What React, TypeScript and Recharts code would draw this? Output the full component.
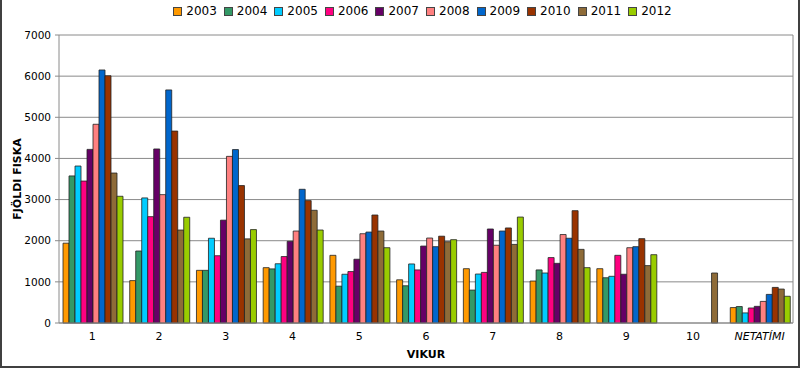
import React from "react";
import {
  Bar,
  BarChart,
  CartesianGrid,
  Legend,
  XAxis,
  YAxis,
} from "recharts";

const weeks = ["1", "2", "3", "4", "5", "6", "7", "8", "9", "10", "NETATÍMI"];
const years = ["2003", "2004", "2005", "2006", "2007", "2008", "2009", "2010", "2011", "2012"];
const colors = ["#ff9900", "#339966", "#00ccff", "#ff0080", "#660066", "#ff8080", "#0066cc", "#993300", "#8e6b38", "#99cc00"];

const y2003 = [1940, 1030, 1280, 1345, 1645, 1050, 1320, 1020, 1320, null, 375];
const y2004 = [3575, 1750, 1280, 1315, 895, 905, 800, 1290, 1100, null, 400];
const y2005 = [3815, 3040, 2060, 1440, 1185, 1435, 1190, 1215, 1135, null, 245];
const y2006 = [3450, 2585, 1635, 1615, 1250, 1290, 1230, 1590, 1645, null, 365];
const y2007 = [4220, 4230, 2500, 1985, 1550, 1870, 2285, 1450, 1185, null, 405];
const y2008 = [4830, 3120, 4050, 2235, 2170, 2065, 1890, 2150, 1830, null, 525];
const y2009 = [6150, 5665, 4215, 3250, 2210, 1855, 2235, 2060, 1855, null, 695];
const y2010 = [6010, 4665, 3340, 2975, 2625, 2110, 2310, 2730, 2050, null, 865];
const y2011 = [3645, 2260, 2045, 2740, 2235, 1975, 1910, 1790, 1395, 1215, 825];
const y2012 = [3080, 2570, 2270, 2260, 1830, 2025, 2575, 1345, 1660, null, 650];

const series = [y2003, y2004, y2005, y2006, y2007, y2008, y2009, y2010, y2011, y2012];
const yTicks = [0, 1000, 2000, 3000, 4000, 5000, 6000, 7000];
const weekEdges = [0, 1, 2, 3, 4, 5, 6, 7, 8, 9, 10, 11];

const data = weeks.map((w, i) => {
  const row: Record<string, string | number | null> = { week: w };
  years.forEach((yr, k) => {
    row[yr] = series[k][i];
  });
  return row;
});

const font = "'DejaVu Sans', Verdana, sans-serif";

const WeekTick = (props: any) => {
  const { x, y, payload } = props;
  const italic = payload.value === "NETATÍMI";
  return (
    <text
      x={x}
      y={y}
      dy={9}
      textAnchor="middle"
      fontSize={11}
      fontFamily={font}
      fontStyle={italic ? "italic" : "normal"}
      fill="#000"
    >
      {payload.value}
    </text>
  );
};

const YearLegend = () => (
  <div
    style={{
      display: "flex",
      justifyContent: "center",
      fontFamily: font,
      fontSize: 12,
      lineHeight: "14px",
      height: 14,
      color: "#000",
    }}
  >
    {years.map((yr, k) => (
      <div key={yr} style={{ display: "flex", alignItems: "center", marginRight: 7 }}>
        <span
          style={{
            width: 7,
            height: 7,
            background: colors[k],
            border: "1px solid #444",
            marginRight: 4,
            display: "inline-block",
          }}
        />
        <span>{yr}</span>
      </div>
    ))}
  </div>
);

const YLabel = (props: any) => {
  const { viewBox } = props;
  const cx = 17;
  const cy = viewBox.y + viewBox.height / 2;
  return (
    <text
      x={cx}
      y={cy}
      transform={`rotate(-90, ${cx}, ${cy})`}
      textAnchor="middle"
      dominantBaseline="central"
      fontSize={11}
      fontWeight="bold"
      fontFamily={font}
      fill="#000"
    >
      FJÖLDI FISKA
    </text>
  );
};

const App = () => {
  return (
    <div style={{ position: "absolute", left: 0, top: 0, width: 800, height: 368, background: "#fff" }}>
      <BarChart
        width={800}
        height={368}
        data={data}
        margin={{ top: 21, right: 6, bottom: 0, left: 0 }}
        barCategoryGap="6%"
        barGap={0}
      >
        <CartesianGrid vertical={false} stroke="#8a8a8a" />
        <XAxis
          xAxisId="edges"
          type="number"
          domain={[0, 11]}
          ticks={weekEdges}
          height={0}
          tick={false}
          tickSize={3}
          tickLine={{ stroke: "#999" }}
          axisLine={false}
          allowDataOverflow
        />
        <XAxis
          dataKey="week"
          height={45}
          tickLine={false}
          axisLine={{ stroke: "#8a8a8a" }}
          tick={<WeekTick />}
          interval={0}
          label={{
            value: "VIKUR",
            position: "insideBottom",
            offset: 10,
            fontSize: 11,
            fontWeight: "bold",
            fontFamily: font,
            fill: "#000",
          }}
        />
        <YAxis
          width={59}
          domain={[0, 7000]}
          ticks={yTicks}
          interval={0}
          tickSize={4}
          tickMargin={4}
          tickLine={{ stroke: "#8a8a8a" }}
          axisLine={{ stroke: "#8a8a8a" }}
          tick={{ fontSize: 10.5, fontFamily: font, fill: "#000" }}
          label={<YLabel />}
        />
        <YAxis
          yAxisId="right"
          orientation="right"
          width={1}
          domain={[0, 7000]}
          tick={false}
          tickLine={false}
          axisLine={{ stroke: "#8a8a8a" }}
        />
        <Legend
          verticalAlign="top"
          content={<YearLegend />}
          wrapperStyle={{ top: 4, left: 59, width: 734, height: 14 }}
        />
        {years.map((yr, k) => (
          <Bar
            key={yr}
            dataKey={yr}
            fill={colors[k]}
            stroke="#222"
            strokeWidth={0.8}
            isAnimationActive={false}
          />
        ))}
      </BarChart>
      <div
        style={{
          position: "absolute",
          left: 0,
          top: 0,
          width: 800,
          height: 368,
          boxSizing: "border-box",
          borderLeft: "2px solid #404040",
          borderRight: "2px solid #404040",
          borderBottom: "2px solid #404040",
          pointerEvents: "none",
        }}
      />
    </div>
  );
};

export default App;
